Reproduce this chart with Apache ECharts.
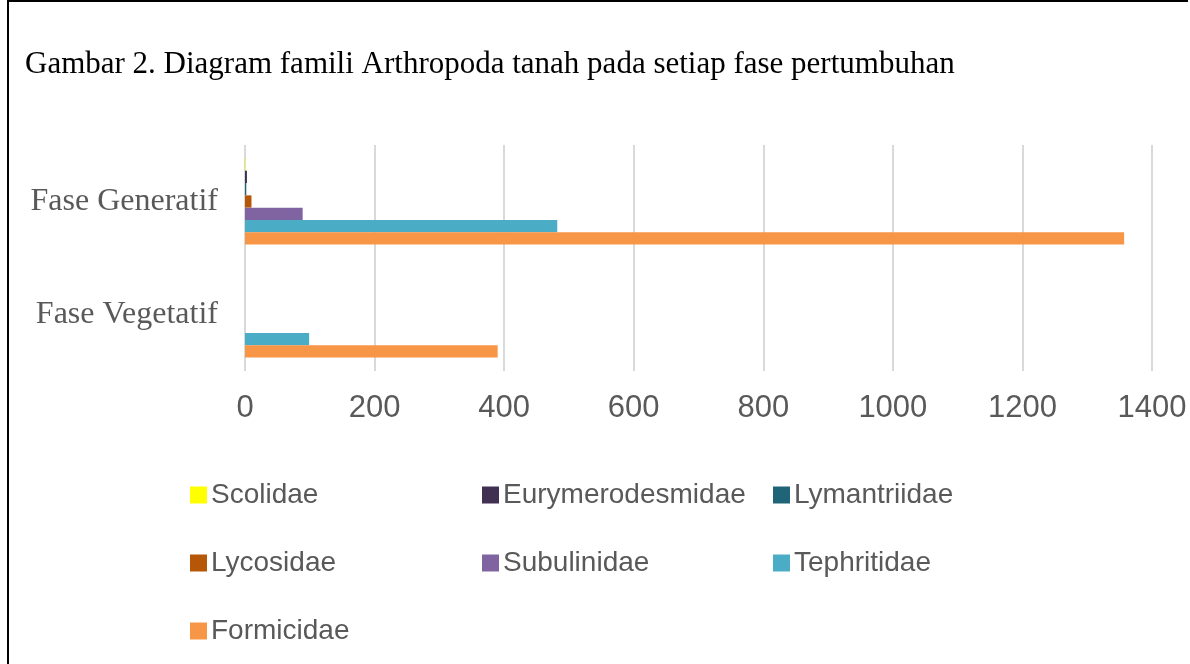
<!DOCTYPE html>
<html>
<head>
<meta charset="utf-8">
<script src="https://cdn.jsdelivr.net/npm/echarts@6/dist/echarts.min.js"></script>
<style>
html,body{margin:0;padding:0;background:#fff;}
#wrap{position:absolute;left:0;top:0;width:1190px;height:664px;}
#frame{position:absolute;left:7px;top:0;width:1181px;height:664px;border-left:2px solid #000;border-top:2px solid #000;box-sizing:border-box;}
#chart{position:absolute;left:0;top:0;width:1190px;height:664px;}
</style>
</head>
<body>
<div id="wrap"><div id="frame"></div><div id="chart"></div></div>
<script>
const titleText = 'Gambar 2. Diagram famili Arthropoda tanah pada setiap fase pertumbuhan';
const categories = ['Fase Vegetatif', 'Fase Generatif'];
const xTicks = [0, 200, 400, 600, 800, 1000, 1200, 1400];
const seriesNames = ['Scolidae', 'Eurymerodesmidae', 'Lymantriidae', 'Lycosidae', 'Subulinidae', 'Tephritidae', 'Formicidae'];
// values per series: [Fase Vegetatif, Fase Generatif]
const scolidae = [0, 1];
const eurymerodesmidae = [0, 3];
const lymantriidae = [0, 2];
const lycosidae = [0, 10];
const subulinidae = [0, 89];
const tephritidae = [99, 482];
const formicidae = [390, 1357];
const seriesValues = [scolidae, eurymerodesmidae, lymantriidae, lycosidae, subulinidae, tephritidae, formicidae];
const colors = ['#ffff00', '#403152', '#1f6577', '#b65708', '#8064a2', '#4bacc6', '#f79646'];

const legendPos = [
  [190, 481], [482, 481], [773, 481],
  [190, 549], [482, 549], [773, 549],
  [190, 617]
];

const chart = echarts.init(document.getElementById('chart'), null, {renderer: 'canvas'});
const option = {
  animation: false,
  backgroundColor: 'transparent',
  title: {
    text: titleText,
    left: 20, top: 44,
    textStyle: {fontFamily: 'Liberation Serif', fontSize: 31, fontWeight: 'normal', color: '#000'}
  },
  legend: seriesNames.map((n, i) => ({
    data: [n],
    left: legendPos[i][0], top: legendPos[i][1],
    padding: 0,
    itemWidth: 17, itemHeight: 17, itemGap: 0,
    icon: 'rect',
    selectedMode: false,
    textStyle: {fontFamily: 'Liberation Sans', fontSize: 28, color: '#595959', padding: [0, 0, 0, -1]}
  })),
  grid: {left: 245, right: 38, top: 145, bottom: 293, containLabel: false},
  xAxis: {
    type: 'value', min: 0, max: 1400, interval: 200,
    axisLine: {show: false}, axisTick: {show: false},
    splitLine: {show: true, lineStyle: {color: '#d9d9d9', width: 2}},
    axisLabel: {
      margin: 22, fontFamily: 'Liberation Sans', fontSize: 31, color: '#595959',
      formatter: v => (xTicks.indexOf(v) >= 0 ? String(v) : '')
    }
  },
  yAxis: {
    type: 'category', data: categories,
    axisLine: {show: false}, axisTick: {show: false}, splitLine: {show: false},
    axisLabel: {margin: 27, fontFamily: 'Liberation Serif', fontSize: 32, color: '#595959'}
  },
  series: seriesNames.map((n, i) => ({
    name: n, type: 'bar', data: seriesValues[i],
    barGap: '0%', barCategoryGap: '24%',
    itemStyle: {color: colors[i]}
  }))
};
chart.setOption(option);
</script>
</body>
</html>
